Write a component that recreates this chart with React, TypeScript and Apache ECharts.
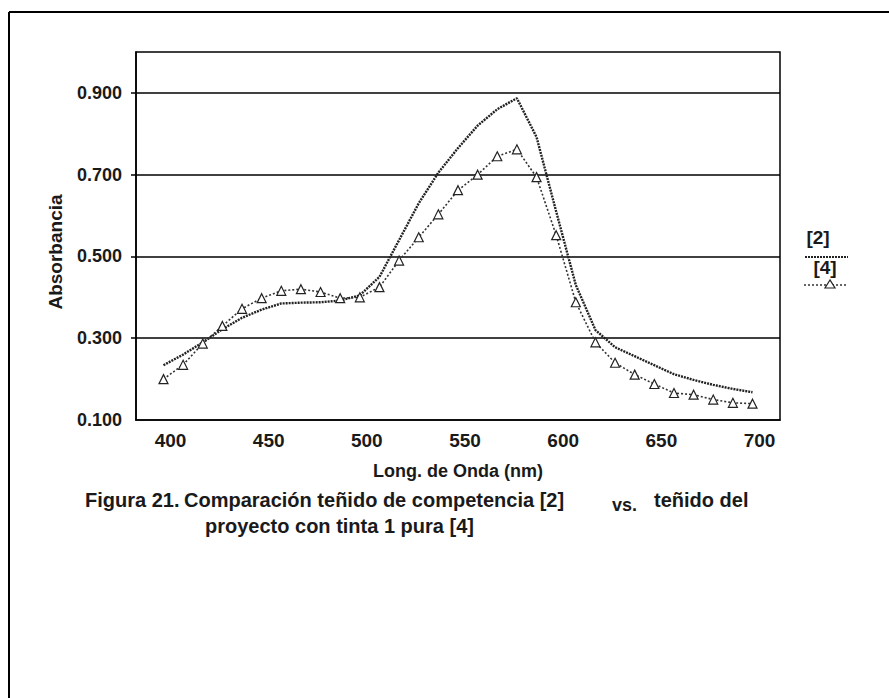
import React, { useEffect, useRef } from "react";
import * as echarts from "echarts";

const wavelengths = [400, 410, 420, 430, 440, 450, 460, 470, 480, 490, 500, 510, 520, 530, 540, 550, 560, 570, 580, 590, 600, 610, 620, 630, 640, 650, 660, 670, 680, 690, 700];
const series2 = [0.234, 0.26, 0.29, 0.322, 0.35, 0.37, 0.385, 0.387, 0.388, 0.392, 0.405, 0.45, 0.54, 0.63, 0.705, 0.765, 0.82, 0.86, 0.887, 0.792, 0.61, 0.43, 0.32, 0.278, 0.256, 0.234, 0.212, 0.198, 0.186, 0.176, 0.168];
const series4 = [0.2, 0.235, 0.287, 0.33, 0.372, 0.398, 0.416, 0.42, 0.413, 0.398, 0.4, 0.425, 0.49, 0.547, 0.603, 0.662, 0.7, 0.745, 0.762, 0.694, 0.552, 0.388, 0.29, 0.24, 0.211, 0.188, 0.166, 0.162, 0.15, 0.142, 0.14];
const xTickLabels = [400, 450, 500, 550, 600, 650, 700];
const yTickLabels = [0.1, 0.3, 0.5, 0.7, 0.9];
const seriesNames = ["[2]", "[4]"];

const FONT = "'Liberation Sans', Arial, sans-serif";
const INK = "#1a1a1a";

export default function App() {
  const ref = useRef<HTMLDivElement>(null);
  useEffect(() => {
    document.body.style.margin = "0";
    const chart = echarts.init(ref.current!, undefined, { renderer: "svg" });
    const d2 = wavelengths.map((w, i) => [w, series2[i]]);
    const d4 = wavelengths.map((w, i) => [w, series4[i]]);
    chart.setOption({
      animation: false,
      backgroundColor: "#fff",
      grid: { left: 136, right: 109, top: 52, bottom: 278, show: true, borderColor: "#000", borderWidth: 1.5, backgroundColor: "transparent" },
      xAxis: {
        type: "value",
        min: 386,
        max: 714,
        name: "Long. de Onda (nm)",
        nameLocation: "middle",
        nameGap: 42,
        nameTextStyle: { fontFamily: FONT, fontWeight: "bold", fontSize: 18, color: INK },
        axisLine: { show: true, lineStyle: { color: "#000", width: 1.5 } },
        axisTick: { show: false },
        splitLine: { show: false },
        axisLabel: { customValues: xTickLabels, fontFamily: FONT, fontWeight: "bold", fontSize: 19, color: INK, margin: 11, padding: [0, 0, 0, 14] },
      },
      yAxis: {
        type: "value",
        min: 0.1,
        max: 1.0,
        interval: 0.1,
        axisLine: { show: true, lineStyle: { color: "#000", width: 1.5 } },
        axisTick: { show: true, customValues: [0.3, 0.5, 0.7, 0.9], length: 5, lineStyle: { color: "#000", width: 1.5 } },
        splitLine: { show: true, lineStyle: { color: "#000", width: 1.5 } },
        axisLabel: {
          customValues: yTickLabels,
          formatter: (v: number) => v.toFixed(3),
          fontFamily: FONT, fontWeight: "bold", fontSize: 18, color: INK, margin: 14,
        },
      },
      series: [
        {
          name: seriesNames[0],
          type: "line",
          data: d2,
          showSymbol: false,
          lineStyle: { color: "#222", width: 2.4, type: [2, 1] },
          z: 3,
        },
        {
          name: seriesNames[1],
          type: "line",
          data: d4,
          symbol: "triangle",
          symbolSize: 9,
          itemStyle: { color: "#fff", borderColor: "#222", borderWidth: 1.2 },
          lineStyle: { color: "#333", width: 1.6, type: [2, 2] },
          z: 4,
        },
      ],
      graphic: [
        { type: "line", shape: { x1: 9, y1: 12, x2: 889, y2: 12 }, style: { stroke: "#000", lineWidth: 2 } },
        { type: "line", shape: { x1: 9, y1: 12, x2: 9, y2: 698 }, style: { stroke: "#000", lineWidth: 2 } },
        { type: "text", x: 55, y: 252, rotation: Math.PI / 2, style: { text: "Absorbancia", font: `bold 19px ${FONT}`, fill: INK, align: "center", verticalAlign: "middle" } },
        { type: "text", x: 818, y: 237, style: { text: seriesNames[0], font: `bold 19px ${FONT}`, fill: INK, align: "center", verticalAlign: "middle" } },
        { type: "line", shape: { x1: 805, y1: 257, x2: 848, y2: 257 }, style: { stroke: "#222", lineWidth: 2, lineDash: [2, 1] } },
        { type: "text", x: 825, y: 267, style: { text: seriesNames[1], font: `bold 19px ${FONT}`, fill: INK, align: "center", verticalAlign: "middle" } },
        { type: "line", shape: { x1: 804, y1: 285, x2: 848, y2: 285 }, style: { stroke: "#333", lineWidth: 1.5, lineDash: [2, 2] } },
        { type: "polygon", shape: { points: [[830, 280], [825, 288], [835, 288]] }, style: { fill: "#fff", stroke: "#222", lineWidth: 1.2 } },
        { type: "text", x: 85, y: 500, style: { text: "Figura 21.", font: `bold 20px ${FONT}`, fill: INK, verticalAlign: "middle" } },
        { type: "text", x: 184, y: 500, style: { text: "Comparación teñido de competencia [2]", font: `bold 20px ${FONT}`, fill: INK, verticalAlign: "middle" } },
        { type: "text", x: 612, y: 505, style: { text: "vs.", font: `bold 18px ${FONT}`, fill: INK, verticalAlign: "middle" } },
        { type: "text", x: 654, y: 500, style: { text: "teñido del", font: `bold 20px ${FONT}`, fill: INK, verticalAlign: "middle" } },
        { type: "text", x: 205, y: 526, style: { text: "proyecto con tinta 1 pura [4]", font: `bold 20px ${FONT}`, fill: INK, verticalAlign: "middle" } },
      ],
    });
    return () => chart.dispose();
  }, []);
  return <div ref={ref} style={{ position: "fixed", left: 0, top: 0, width: 889, height: 698 }} />;
}
